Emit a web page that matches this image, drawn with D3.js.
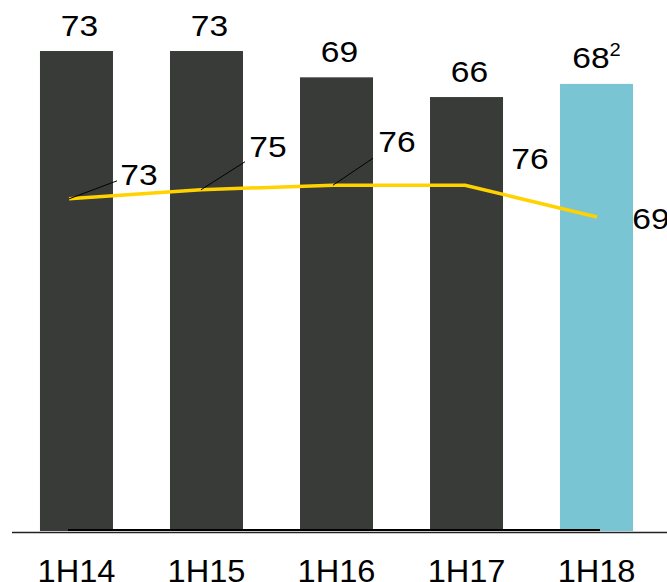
<!DOCTYPE html>
<html>
<head>
<meta charset="utf-8">
<script src="https://cdn.jsdelivr.net/npm/d3@7"></script>
<style>
  html, body { margin: 0; padding: 0; background: #fff; }
  svg { display: block; }
  text { font-family: "Liberation Sans", Arial, sans-serif; fill: #000; }
</style>
</head>
<body>
<svg id="chart" width="667" height="582"></svg>
<script>
// Half-year periods
const periods = ["1H14", "1H15", "1H16", "1H17", "1H18"];
// Bar series (last period highlighted)
const barValues = [73, 73, 69, 66, 68];
const barNotes = ["", "", "", "", "2"];
// Line series
const lineValues = [73, 75, 76, 76, 69];

// Label layout for the line series: offset from point, and leader end (if any)
const lineLabelOffsets = [[70, -14], [67, -33], [64, -33], [65, -16], [54, 12]];
const leaderEnds = [[48, -18], [44, -28], [40, -27], null, null];

const W = 667, H = 582;
const svg = d3.select("#chart");

const x = d3.scaleBand()
  .domain(periods)
  .range([11.5, 661.5])
  .paddingInner(0.4385)
  .paddingOuter(0.219);

// the line series sits on its own horizontal scale
const xLine = d3.scalePoint().domain(periods).range([69, 597]);

const yBar = d3.scaleLinear().domain([0, 80]).range([531, 5]);
const yLine = d3.scaleLinear().domain([0, 100]).range([531, 76]);

const barColor = "#393b38";
const highlight = "#79c5d4";
const lineColor = "#ffd200";
const sx = 1.12; // horizontal stretch of the numeric labels

// bars
svg.append("g").selectAll("rect")
  .data(barValues)
  .join("rect")
  .attr("x", (d, i) => x(periods[i]))
  .attr("y", d => yBar(d))
  .attr("width", x.bandwidth())
  .attr("height", d => yBar(0) - yBar(d))
  .attr("fill", (d, i) => i === periods.length - 1 ? highlight : barColor);

// axis baseline
svg.append("line")
  .attr("x1", 12).attr("x2", W)
  .attr("y1", 532.5).attr("y2", 532.5)
  .attr("stroke", "#222").attr("stroke-width", 1.5);

// base rule of the line series
const cx = i => x(periods[i]) + x.bandwidth() / 2;
const lx = i => xLine(periods[i]);
svg.append("line")
  .attr("x1", lx(0) - 1).attr("x2", lx(periods.length - 1) + 3)
  .attr("y1", 530).attr("y2", 530)
  .attr("stroke", "#000").attr("stroke-width", 2);

// bar value labels
const barLabels = svg.append("g").selectAll("text")
  .data(barValues)
  .join("text")
  .attr("transform", (d, i) => `translate(${cx(i) + (barNotes[i] ? 0 : 3)},${yBar(d) - 15.5}) scale(${sx},1)`)
  .attr("text-anchor", "middle")
  .attr("font-size", 30);
barLabels.append("tspan").text(d => d);
barLabels.append("tspan")
  .attr("font-size", 18)
  .attr("dy", -12)
  .text((d, i) => barNotes[i]);

// line
const line = d3.line()
  .x((d, i) => lx(i))
  .y(d => yLine(d));
svg.append("path")
  .datum(lineValues)
  .attr("d", line)
  .attr("fill", "none")
  .attr("stroke", lineColor)
  .attr("stroke-width", 3.5)
  .attr("stroke-linejoin", "round");

// leader lines
svg.append("g").selectAll("line")
  .data(lineValues.map((d, i) => ({ d, i })).filter(o => leaderEnds[o.i]))
  .join("line")
  .attr("x1", o => lx(o.i))
  .attr("y1", o => yLine(o.d))
  .attr("x2", o => lx(o.i) + leaderEnds[o.i][0])
  .attr("y2", o => yLine(o.d) + leaderEnds[o.i][1])
  .attr("stroke", "#000")
  .attr("stroke-width", 1);

// line value labels
svg.append("g").selectAll("text")
  .data(lineValues)
  .join("text")
  .attr("transform", (d, i) => `translate(${lx(i) + lineLabelOffsets[i][0]},${yLine(d) + lineLabelOffsets[i][1]}) scale(${sx},1)`)
  .attr("text-anchor", "middle")
  .attr("font-size", 30)
  .text(d => d);

// category labels
svg.append("g").selectAll("text")
  .data(periods)
  .join("text")
  .attr("transform", d => `translate(${x(d) + x.bandwidth() / 2},582) scale(1.05,1)`)
  .attr("text-anchor", "middle")
  .attr("font-size", 31)
  .text(d => d);
</script>
</body>
</html>
